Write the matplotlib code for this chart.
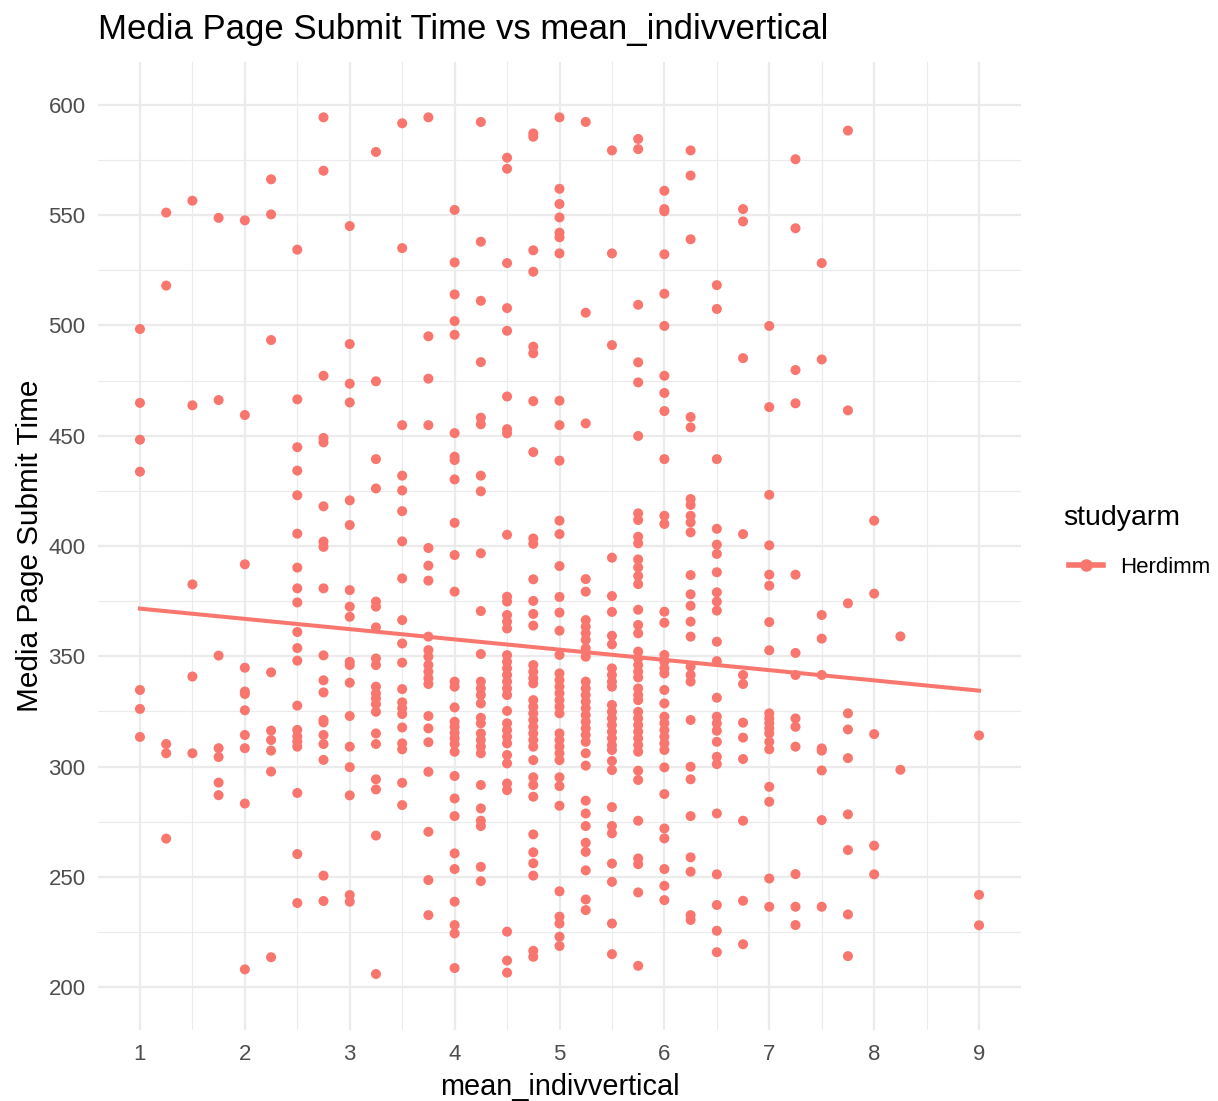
import numpy as np
import matplotlib
matplotlib.use("Agg")
import matplotlib.pyplot as plt
from matplotlib.lines import Line2D

plt.rcParams['font.family'] = ['Liberation Sans', 'DejaVu Sans']

# Media page submit time, one list per mean_indivvertical value
y_100 = [498.4, 464.9, 448.2, 433.7, 334.7, 326.1, 313.4]
y_125 = [551.2, 518.1, 310.2, 306.0, 267.3]
y_150 = [556.6, 463.8, 382.6, 340.8, 306.0]
y_175 = [548.8, 466.2, 350.3, 308.3, 304.3, 292.7, 287.0]
y_200 = [547.7, 459.4, 391.7, 344.8, 334.0, 332.9, 325.5, 314.3, 308.3, 283.2, 208.0]
y_225 = [566.3, 550.4, 493.4, 342.7, 316.3, 312.0, 307.2, 297.7, 213.5]
y_250 = [534.4, 466.5, 444.8, 434.2, 423.0, 405.6, 390.2, 380.8, 374.4, 361.0, 353.7,
         348.0, 327.6, 316.6, 313.6, 311.3, 309.0, 288.0, 260.3, 238.1]
y_275 = [594.4, 570.2, 477.2, 449.0, 447.0, 418.0, 402.0, 399.6, 380.8, 350.4, 339.1,
         333.6, 321.1, 320.0, 314.3, 310.2, 303.0, 250.5, 239.0]
y_300 = [545.1, 491.6, 473.6, 465.1, 420.7, 409.5, 380.0, 372.5, 367.9, 347.5, 346.0,
         338.0, 322.9, 309.0, 299.7, 286.9, 241.7, 238.7]
y_325 = [578.7, 474.7, 439.4, 426.1, 374.8, 372.5, 363.1, 349.0, 346.0, 336.2, 333.2,
         330.9, 328.3, 324.8, 315.0, 310.2, 294.2, 289.6, 268.7, 205.9]
y_350 = [591.7, 535.1, 454.8, 431.9, 425.2, 415.8, 402.1, 385.3, 366.4, 355.8, 347.1,
         335.1, 329.1, 326.4, 323.8, 317.7, 310.5, 307.8, 292.6, 282.5]
y_375 = [594.4, 495.1, 475.9, 454.8, 399.1, 391.1, 384.3, 358.9, 352.8, 349.8, 346.0,
         343.0, 340.0, 337.4, 322.9, 317.3, 311.0, 297.6, 270.4, 248.5, 232.6]
y_400 = [552.4, 528.6, 514.1, 502.0, 495.8, 451.2, 440.5, 439.0, 430.2, 410.5, 395.9,
         379.3, 338.5, 336.2, 326.8, 320.3, 318.0, 315.3, 312.8, 310.2, 306.7, 295.7,
         285.5, 277.5, 260.6, 253.5, 238.7, 228.1, 224.3, 208.6]
y_425 = [592.3, 538.0, 511.2, 483.4, 458.2, 455.2, 431.9, 424.8, 396.7, 370.5, 351.0,
         338.5, 335.4, 332.4, 328.6, 322.1, 319.6, 315.0, 312.0, 309.0, 306.0, 291.6,
         281.0, 275.4, 273.0, 254.5, 248.0]
y_450 = [576.1, 571.1, 528.3, 507.9, 497.6, 467.8, 453.0, 451.1, 405.1, 377.0, 374.8,
         368.7, 365.7, 362.6, 350.5, 347.5, 344.5, 341.5, 338.5, 335.4, 332.4, 325.2,
         319.6, 316.5, 313.5, 310.5, 305.2, 301.4, 292.3, 289.3, 225.1, 212.0, 206.5]
y_475 = [587.1, 585.6, 534.1, 524.4, 490.4, 487.4, 465.7, 442.6, 403.4, 401.0, 384.9,
         375.1, 369.2, 363.9, 346.0, 343.0, 340.0, 337.7, 330.1, 327.1, 324.1, 321.1,
         318.0, 315.0, 312.0, 309.0, 302.9, 295.1, 291.6, 286.3, 269.2, 261.1, 256.1,
         250.5, 216.4, 213.7]
y_500 = [594.4, 562.0, 555.1, 549.0, 542.1, 540.0, 532.7, 465.9, 454.8, 438.7, 411.5,
         405.4, 390.9, 376.9, 369.8, 361.6, 350.6, 342.2, 339.2, 336.2, 333.2, 330.1,
         327.1, 324.1, 315.0, 312.0, 309.0, 306.0, 302.9, 295.1, 291.1, 282.2, 243.4,
         231.9, 228.8, 222.8, 218.6]
y_525 = [592.3, 505.8, 455.6, 385.0, 379.3, 366.4, 363.4, 360.4, 357.4, 353.6, 349.8,
         338.5, 335.4, 332.4, 329.4, 326.4, 323.3, 320.3, 317.3, 314.3, 311.2, 306.0,
         300.4, 284.5, 278.7, 273.0, 265.4, 261.3, 252.9, 239.7, 234.9]
y_550 = [579.4, 532.7, 491.1, 394.7, 377.3, 370.1, 359.3, 355.4, 344.5, 341.5, 338.5,
         336.2, 327.9, 324.8, 321.8, 318.8, 315.8, 312.8, 309.7, 307.5, 302.5, 298.4,
         281.6, 273.0, 269.7, 256.0, 247.7, 228.8, 214.9]
y_575 = [584.6, 580.0, 509.4, 483.3, 474.2, 449.9, 414.8, 411.8, 404.2, 401.2, 393.9,
         390.3, 386.4, 382.7, 371.1, 364.2, 360.4, 352.1, 349.0, 346.0, 343.0, 340.4,
         335.4, 332.4, 330.1, 324.8, 321.8, 318.8, 315.8, 312.8, 309.7, 306.7, 298.1,
         293.9, 275.4, 258.3, 255.7, 242.9, 209.6]
y_600 = [561.1, 552.8, 551.8, 532.3, 514.4, 499.8, 477.2, 469.4, 461.2, 439.4, 413.7,
         410.0, 370.2, 365.2, 350.6, 347.5, 344.5, 342.2, 334.7, 328.6, 322.6, 319.6,
         316.5, 313.5, 310.5, 307.5, 299.6, 287.5, 271.9, 267.4, 253.5, 245.9, 239.4]
y_625 = [579.4, 568.0, 539.1, 458.5, 453.8, 421.3, 418.6, 413.7, 410.7, 406.2, 386.8,
         378.1, 372.9, 365.7, 358.9, 345.3, 341.5, 338.5, 321.1, 299.9, 294.2, 277.5,
         258.8, 252.3, 232.6, 230.4]
y_650 = [518.3, 507.5, 439.4, 407.8, 400.6, 396.4, 388.1, 379.0, 374.8, 370.7, 356.6,
         347.8, 331.2, 322.6, 319.6, 316.2, 311.2, 304.4, 301.1, 278.7, 251.1, 237.2,
         225.5, 215.8]
y_675 = [552.8, 547.2, 485.2, 405.4, 341.5, 337.4, 319.9, 313.1, 303.4, 275.4, 239.1, 219.4]
y_700 = [499.8, 463.0, 423.2, 400.3, 387.0, 382.0, 365.5, 352.7, 324.1, 321.8, 319.6,
         317.3, 315.0, 311.2, 307.8, 290.8, 284.0, 249.2, 236.4]
y_725 = [575.4, 544.1, 479.8, 464.7, 387.0, 351.5, 341.5, 321.8, 318.0, 309.0, 251.2,
         236.4, 228.1]
y_750 = [528.3, 484.6, 368.7, 358.0, 341.5, 308.2, 307.2, 298.2, 275.7, 236.4]
y_775 = [588.4, 461.5, 374.0, 324.1, 316.8, 303.8, 278.3, 262.1, 232.9, 214.0]
y_800 = [411.5, 378.4, 314.7, 264.1, 251.1]
y_825 = [359.0, 298.5]
y_900 = [314.1, 241.8, 228.0]

x_levels = [1.0, 1.25, 1.5, 1.75, 2.0, 2.25, 2.5, 2.75, 3.0, 3.25, 3.5, 3.75, 4.0,
            4.25, 4.5, 4.75, 5.0, 5.25, 5.5, 5.75, 6.0, 6.25, 6.5, 6.75, 7.0, 7.25,
            7.5, 7.75, 8.0, 8.25, 9.0]
y_groups = [y_100, y_125, y_150, y_175, y_200, y_225, y_250, y_275, y_300, y_325,
            y_350, y_375, y_400, y_425, y_450, y_475, y_500, y_525, y_550, y_575,
            y_600, y_625, y_650, y_675, y_700, y_725, y_750, y_775, y_800, y_825, y_900]

# linear trend as drawn in the chart (ends)
trend_x = [1.0, 9.0]
trend_y = [371.6, 334.4]

x = np.concatenate([np.full(len(g), lv) for lv, g in zip(x_levels, y_groups)])
y = np.concatenate([np.array(g) for g in y_groups])

col = '#F8766D'
grid_col = '#EBEBEB'

fig = plt.figure(figsize=(12.18, 11.01), dpi=100)
W, H = 1218, 1101
ax = fig.add_axes([98 / W, 1 - 1030 / H, (1021 - 98) / W, (1030 - 62) / H])

ax.set_xlim(0.6, 9.4)
ax.set_ylim(180.5, 619.5)
ax.set_xticks(range(1, 10))
ax.set_xticks(np.arange(1.5, 9.0, 1.0), minor=True)
ax.set_yticks(range(200, 601, 50))
ax.set_yticks(range(225, 600, 50), minor=True)
ax.grid(which='major', color=grid_col, lw=1.6)
ax.grid(which='minor', color=grid_col, lw=0.8)
ax.set_axisbelow(True)
for s in ax.spines.values():
    s.set_visible(False)
ax.tick_params(which='both', length=0)
ax.tick_params(axis='y', labelsize=16, labelcolor='#4D4D4D', pad=9)
ax.tick_params(axis='x', labelsize=16, labelcolor='#4D4D4D', pad=10)

ax.scatter(x, y, s=52, color=col, edgecolors='none', zorder=3)
ax.plot(trend_x, trend_y, color=col, lw=2.9, zorder=4)

ax.set_xlabel('mean_indivvertical', fontsize=20.8, labelpad=6)
ax.set_ylabel('Media Page Submit Time', fontsize=21.4, labelpad=3)
fig.text(98 / W, 1 - 30 / H, 'Media Page Submit Time vs mean_indivvertical',
         fontsize=25, ha='left', va='center')

# legend: title as its own text, one key entry below it
fig.text(1063 / W, 1 - 518 / H, 'studyarm', fontsize=20.5, ha='left', va='center')
handle = Line2D([], [], color=col, lw=4, marker='o', markersize=8)
leg = fig.legend([handle], ['Herdimm'], loc='center left',
                 bbox_to_anchor=(1049 / W, 1 - 567 / H), frameon=False,
                 fontsize=16, handlelength=1.55, handletextpad=0.75)

fig.savefig('out.png', dpi=100)
